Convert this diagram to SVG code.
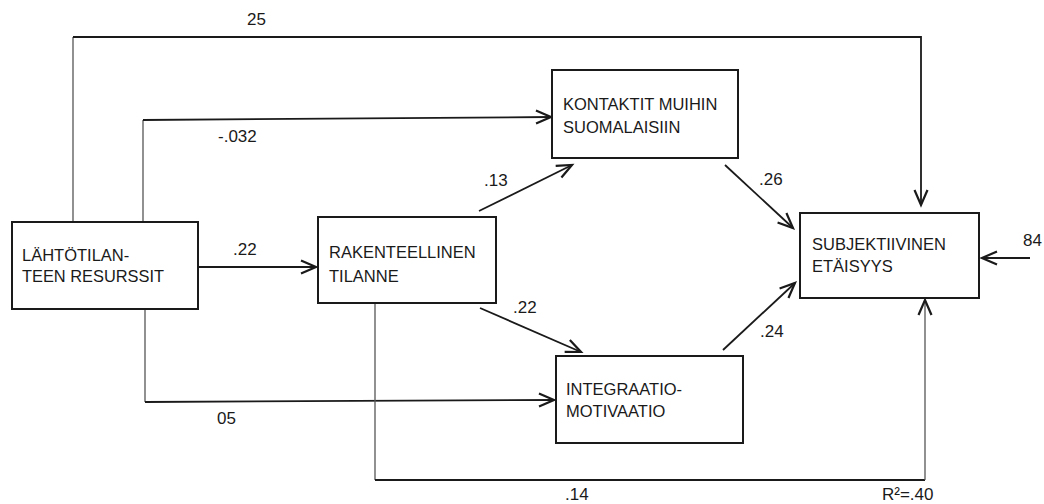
<svg xmlns="http://www.w3.org/2000/svg" width="1044" height="504" viewBox="0 0 1044 504">
<style>
.box{fill:#fff;stroke:#1a1a1a;stroke-width:2}
.t{font-family:"Liberation Sans",Arial,sans-serif;font-size:16.5px;fill:#1a1a1a}
.l{font-family:"Liberation Sans",Arial,sans-serif;font-size:17px;fill:#1a1a1a}
.c{fill:none;stroke:#1a1a1a;stroke-width:1.8}
.g{fill:none;stroke:#555;stroke-width:1.3}
</style>
<defs>
<marker id="ah" markerUnits="userSpaceOnUse" markerWidth="22" markerHeight="22" viewBox="-18 -11 22 22" refX="0" refY="0" orient="auto">
<path d="M-15,-6.5 L0,0 L-15,6.5" fill="none" stroke="#1a1a1a" stroke-width="2.2"/>
</marker>
</defs>
<rect width="1044" height="504" fill="#fff"/>
<g id="connectors">
<path class="g" d="M73,222 V37"/>
<path class="c" d="M73,37 H921 V205" marker-end="url(#ah)"/>
<path class="g" d="M143,222 V120"/>
<path class="c" d="M143,120 L551,117" marker-end="url(#ah)"/>
<path class="c" d="M198,267 H316" marker-end="url(#ah)"/>
<path class="c" d="M479,211 L572,165" marker-end="url(#ah)"/>
<path class="c" d="M480,308 L581,352" marker-end="url(#ah)"/>
<path class="c" d="M725,165 L793,228" marker-end="url(#ah)"/>
<path class="c" d="M723,350 L795,283" marker-end="url(#ah)"/>
<path class="c" d="M1030,258 H982" marker-end="url(#ah)"/>
<path class="g" d="M145,309 V402"/>
<path class="c" d="M145,402 L554,400" marker-end="url(#ah)"/>
<path class="g" d="M375,303 V480"/>
<path class="c" d="M375,480 H925"/>
<path class="g" d="M925,480 V300" marker-end="url(#ah)"/>
</g>
<g id="n-lahto">
<rect class="box" x="12" y="222" width="186" height="87"/>
<text class="t" x="22" y="261">LÄHTÖTILAN-</text>
<text class="t" x="22" y="282" textLength="142" lengthAdjust="spacingAndGlyphs">TEEN RESURSSIT</text>
</g>
<g id="n-rakenne">
<rect class="box" x="318" y="217" width="178" height="86"/>
<text class="t" x="329" y="258">RAKENTEELLINEN</text>
<text class="t" x="329" y="282">TILANNE</text>
</g>
<g id="n-kontaktit">
<rect class="box" x="552" y="70" width="186" height="88"/>
<text class="t" x="563" y="110">KONTAKTIT MUIHIN</text>
<text class="t" x="563" y="133">SUOMALAISIIN</text>
</g>
<g id="n-integraatio">
<rect class="box" x="556" y="356" width="187" height="87"/>
<text class="t" x="566" y="395">INTEGRAATIO-</text>
<text class="t" x="566" y="417">MOTIVAATIO</text>
</g>
<g id="n-subjektiivinen">
<rect class="box" x="800" y="213" width="179" height="85"/>
<text class="t" x="812" y="250">SUBJEKTIIVINEN</text>
<text class="t" x="812" y="272">ETÄISYYS</text>
</g>
<g id="labels">
<text class="l" x="247" y="25">25</text>
<text class="l" x="218" y="142">-.032</text>
<text class="l" x="233" y="255">.22</text>
<text class="l" x="484" y="186">.13</text>
<text class="l" x="513" y="313">.22</text>
<text class="l" x="759" y="185">.26</text>
<text class="l" x="760" y="337">.24</text>
<text class="l" x="1023" y="246">84</text>
<text class="l" x="217" y="424">05</text>
<text class="l" x="565" y="500">.14</text>
<text class="l" x="882" y="500">R²=.40</text>
</g>
</svg>
